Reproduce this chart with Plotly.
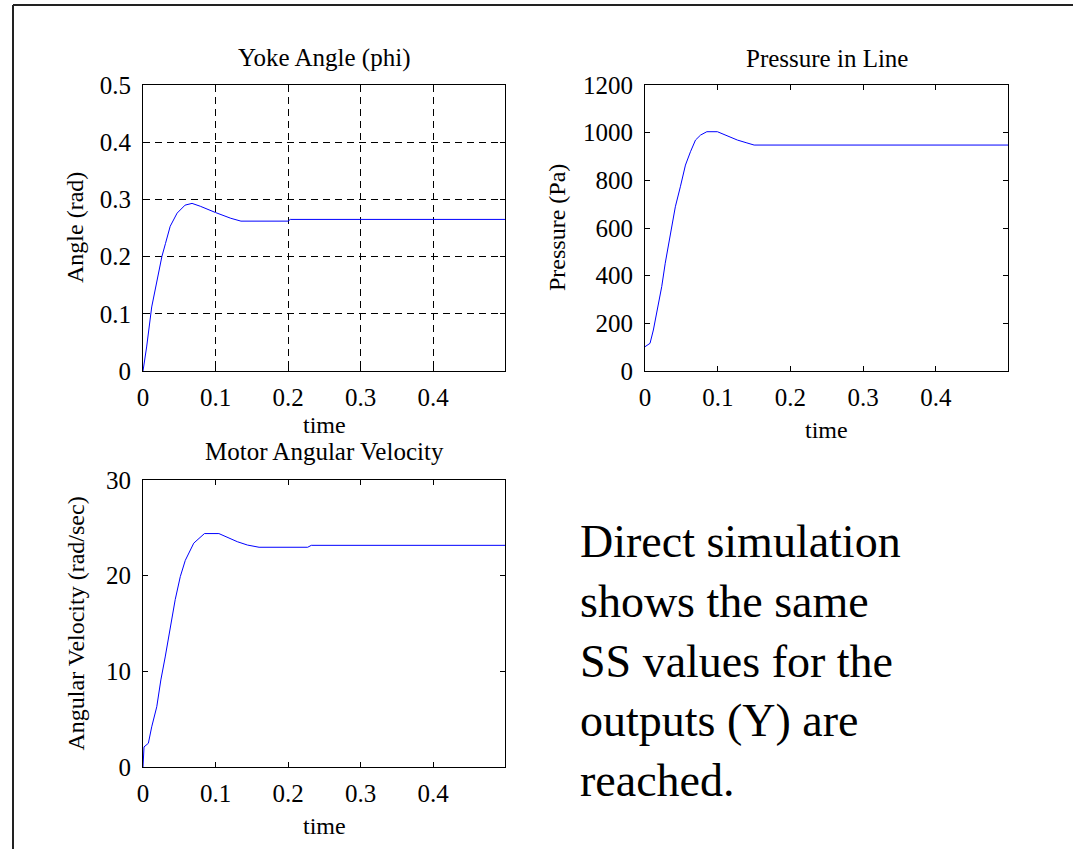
import plotly.graph_objects as go

W, H = 1073, 849

# ---- data ----
t_angle = [0, 0.005, 0.012, 0.019, 0.026, 0.031, 0.0375, 0.047, 0.058, 0.0676, 0.079, 0.1,
           0.121, 0.135, 0.2, 0.203, 0.499]
angle = [0, 0.042, 0.112, 0.153, 0.2, 0.223, 0.253, 0.276, 0.29, 0.293, 0.288, 0.277,
         0.267, 0.262, 0.262, 0.265, 0.265]

t_press = [0, 0.0069, 0.0115, 0.016, 0.023, 0.0278, 0.0347, 0.0417, 0.0486, 0.0556, 0.0625,
           0.0694, 0.0764, 0.085, 0.0995, 0.1134, 0.127, 0.139, 0.15, 0.499]
press = [102, 116, 172, 242, 354, 452, 578, 689, 773, 864, 920, 969, 990, 1004, 1004, 986,
         969, 958, 948, 948]

t_vel = [0, 0.0014, 0.0074, 0.012, 0.019, 0.0246, 0.0306, 0.0375, 0.0444, 0.0514, 0.0583,
         0.07, 0.0847, 0.1046, 0.116, 0.13, 0.144, 0.16, 0.227, 0.232, 0.499]
vel = [0, 2.1, 2.48, 4.2, 6.3, 9.1, 11.5, 14.7, 17.5, 19.9, 21.6, 23.4, 24.4, 24.4, 24.0,
       23.55, 23.2, 22.97, 22.97, 23.17, 23.17]

x_ticks = [0, 0.1, 0.2, 0.3, 0.4]
x_ticktext = ["0", "0.1", "0.2", "0.3", "0.4"]
angle_ticks = [0, 0.1, 0.2, 0.3, 0.4, 0.5]
press_ticks = [0, 200, 400, 600, 800, 1000, 1200]
vel_ticks = [0, 10, 20, 30]

titles = ["Yoke Angle (phi)", "Pressure in Line", "Motor Angular Velocity"]
ylabels = ["Angle (rad)", "Pressure (Pa)", "Angular Velocity (rad/sec)"]
xlabel = "time"
note = "Direct simulation<br>shows the same<br>SS values for the<br>outputs (Y) are<br>reached."

FONT = "Liberation Serif, Times New Roman, serif"
BLUE = "#0000FF"


def px(x):
    return x / W


def py(y):
    return 1 - y / H


fig = go.Figure()
fig.add_trace(go.Scatter(x=t_angle, y=angle, mode="lines", line=dict(color=BLUE, width=1),
                         xaxis="x", yaxis="y", showlegend=False, hoverinfo="skip"))
fig.add_trace(go.Scatter(x=t_press, y=press, mode="lines", line=dict(color=BLUE, width=1),
                         xaxis="x2", yaxis="y2", showlegend=False, hoverinfo="skip"))
fig.add_trace(go.Scatter(x=t_vel, y=vel, mode="lines", line=dict(color=BLUE, width=1),
                         xaxis="x3", yaxis="y3", showlegend=False, hoverinfo="skip"))

common = dict(showline=True, linecolor="black", linewidth=1, mirror="allticks",
              ticks="inside", ticklen=5, tickcolor="black", zeroline=False, automargin=False,
              tickfont=dict(family=FONT, size=25, color="black"))

# pixel boxes of the three axes: (x0, x1, ytop, ybottom)
boxes = [(143, 505, 85, 371), (645, 1008, 85, 371), (143, 505, 480, 767)]
yt = [angle_ticks, press_ticks, vel_ticks]
yr = [[0, 0.5], [0, 1200], [0, 30]]

layout = dict(width=W, height=H, margin=dict(l=0, r=0, t=0, b=0, autoexpand=False),
              paper_bgcolor="white", plot_bgcolor="white", showlegend=False)
for i, (x0, x1, ytop, ybot) in enumerate(boxes):
    xs = "xaxis" if i == 0 else f"xaxis{i+1}"
    ys = "yaxis" if i == 0 else f"yaxis{i+1}"
    grid = i == 0
    layout[xs] = dict(domain=[px(x0), px(x1)], range=[0, 0.499], tickvals=x_ticks,
                      ticktext=x_ticktext, anchor="y" if i == 0 else f"y{i+1}",
                      showgrid=grid, gridcolor="black", gridwidth=1, griddash="7px,5px",
                      ticklabelstandoff=4, **common)
    layout[ys] = dict(domain=[py(ybot), py(ytop)], range=yr[i], tickvals=yt[i],
                      anchor="x" if i == 0 else f"x{i+1}",
                      showgrid=grid, gridcolor="black", gridwidth=1, griddash="7px,5px",
                      ticklabelstandoff=6, **common)
fig.update_layout(**layout)

ann = []
# titles
for (x0, x1, ytop, ybot), ttl, ty in zip(boxes, titles, [58, 58, 451]):
    ann.append(dict(x=px((x0 + x1) / 2), y=py(ty), xref="paper", yref="paper", text=ttl,
                    showarrow=False, xanchor="center", yanchor="middle",
                    font=dict(family=FONT, size=25, color="black")))
# y labels
for (x0, x1, ytop, ybot), lab, lx in zip(boxes, ylabels, [75, 557, 75]):
    ann.append(dict(x=px(lx), y=py((ytop + ybot) / 2), xref="paper", yref="paper", text=lab,
                    showarrow=False, xanchor="center", yanchor="middle", textangle=-90,
                    font=dict(family=FONT, size=24, color="black")))
# x labels
for (x0, x1, ytop, ybot), lyy in zip(boxes, [425, 430, 826]):
    ann.append(dict(x=px((x0 + x1) / 2), y=py(lyy), xref="paper", yref="paper", text=xlabel,
                    showarrow=False, xanchor="center", yanchor="middle",
                    font=dict(family=FONT, size=24, color="black")))
# note text
ann.append(dict(x=px(578), y=py(661), xref="paper", yref="paper", text=note, align="left",
                showarrow=False, xanchor="left", yanchor="middle",
                font=dict(family=FONT, size=46, color="black")))
fig.update_layout(annotations=ann)

# outer frame (top and left edges)
fig.add_shape(type="line", xref="paper", yref="paper", x0=px(13), x1=1.02, y0=py(5), y1=py(5),
              line=dict(color="#222222", width=2))
fig.add_shape(type="line", xref="paper", yref="paper", x0=px(13), x1=px(13), y0=py(5), y1=-0.02,
              line=dict(color="#222222", width=2))

fig.write_html("out.html", config={"displayModeBar": False},
               post_script="document.body.style.margin='0';document.body.style.overflow='hidden';")
